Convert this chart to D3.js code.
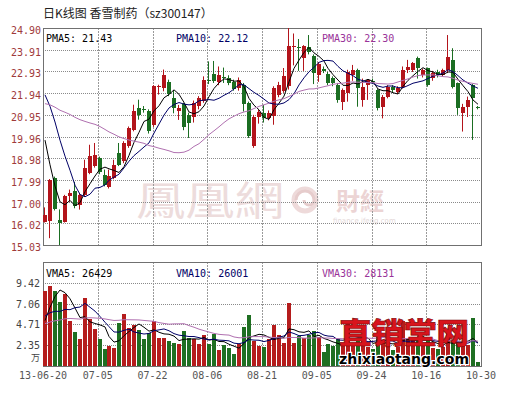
<!DOCTYPE html>
<html>
<head>
<meta charset="utf-8">
<script src="https://cdn.jsdelivr.net/npm/d3@7"></script>
<style>
body { margin: 0; background: #fff; }
svg { display: block; }
</style>
</head>
<body>
<script>
var WIDTH = 506, HEIGHT = 395;

// trading days 2013-06-20 .. 2013-10-30
var dates = ["06-20","06-21","06-24","06-25","06-26","06-27","06-28",
  "07-01","07-02","07-03","07-04","07-05","07-08","07-09","07-10","07-11","07-12",
  "07-15","07-16","07-17","07-18","07-19","07-22","07-23","07-24","07-25","07-26","07-29","07-30","07-31",
  "08-01","08-02","08-05","08-06","08-07","08-08","08-09","08-12","08-13","08-14","08-15","08-16",
  "08-19","08-20","08-21","08-22","08-23","08-26","08-27","08-28","08-29","08-30",
  "09-02","09-03","09-04","09-05","09-06","09-09","09-10","09-11","09-12","09-13",
  "09-16","09-17","09-18","09-23","09-24","09-25","09-26","09-27","09-30",
  "10-08","10-09","10-10","10-11","10-14","10-15","10-16","10-17","10-18",
  "10-21","10-22","10-23","10-24","10-25","10-28","10-29","10-30"];

var open = [16.09,16.12,18.09,16.15,16.09,17.28,17.50,16.87,17.32,18.31,
  18.61,18.99,18.23,17.65,18.08,19.22,18.84,19.52,20.28,21.26,
  21.22,21.11,20.50,22.20,22.17,22.45,21.70,21.12,21.45,20.95,
  20.85,21.35,21.60,22.55,22.80,22.45,22.65,22.62,22.45,22.15,
  22.30,21.48,19.55,20.84,21.05,20.82,20.88,21.87,22.02,22.25,
  24.02,24.05,23.55,24.05,23.62,22.75,23.02,22.80,22.62,22.31,
  21.55,21.93,22.76,22.99,21.63,22.31,22.48,22.08,21.32,21.78,
  22.23,22.00,22.23,22.99,22.99,23.52,22.76,23.07,22.61,22.91,
  22.76,22.99,23.45,22.38,21.02,21.32,22.31,21.30];
var high = [16.74,18.03,18.14,16.65,17.31,17.55,17.90,17.40,18.91,19.59,
  19.67,19.05,18.46,18.46,18.91,19.67,19.75,20.42,21.41,21.64,
  21.35,21.20,22.30,22.32,23.01,22.55,22.08,21.40,21.50,21.05,
  21.60,21.80,22.70,23.38,23.40,23.15,23.10,22.75,22.55,22.65,
  22.40,21.55,20.95,21.20,21.40,21.15,22.25,22.45,23.08,24.90,
  24.65,24.40,24.12,24.58,23.70,23.35,23.15,22.90,22.70,22.40,
  22.15,23.00,23.22,23.05,22.60,22.56,22.60,22.12,21.85,22.30,
  22.30,22.25,23.15,23.45,23.35,23.60,23.05,23.10,22.95,23.00,
  23.05,24.58,23.98,22.42,21.45,21.78,22.35,21.35];
var low = [16.05,15.34,16.60,15.03,16.05,17.00,16.70,16.64,17.25,18.25,
  18.55,18.25,17.70,17.60,18.02,18.62,18.75,19.45,20.20,20.73,
  21.05,20.10,20.40,21.87,22.02,21.80,21.02,20.72,20.25,19.90,
  20.60,21.20,21.50,22.35,22.40,22.30,22.40,22.30,22.05,22.05,
  21.10,19.90,19.45,20.55,20.60,20.70,20.50,21.75,21.95,22.10,
  23.20,22.95,22.95,23.70,22.35,22.45,22.85,22.30,22.25,21.50,
  21.17,21.55,22.50,21.32,21.32,21.63,22.35,21.15,20.79,21.70,
  21.95,21.90,22.15,22.85,22.90,22.60,22.65,22.23,22.50,22.65,
  22.70,22.85,22.15,20.95,20.19,20.85,19.81,21.20];
var close = [16.40,17.99,16.65,16.02,17.26,17.38,16.79,17.32,18.53,19.06,
  19.14,18.35,17.78,18.15,18.68,18.68,19.67,20.35,21.11,20.96,
  21.15,20.20,22.25,22.25,22.78,21.90,21.26,21.24,20.40,20.60,
  21.50,21.72,22.55,22.50,22.48,22.78,22.62,22.40,22.12,22.55,
  21.45,19.97,20.85,21.08,20.82,21.02,22.15,22.32,22.70,24.07,
  24.08,24.02,24.08,23.82,22.85,23.28,22.96,22.42,22.38,21.63,
  22.08,22.91,22.99,22.16,22.23,22.54,22.44,21.25,21.78,22.23,
  22.08,22.15,22.99,23.14,23.29,23.07,22.99,22.31,22.84,22.76,
  22.99,23.60,22.23,21.25,21.32,21.63,21.70,21.25];
// volume, in 万
var volume = [8.52,9.08,8.52,7.21,8.18,5.08,3.85,3.10,7.70,5.27,
  4.15,3.03,1.98,2.28,2.09,4.90,5.90,4.33,4.60,4.07,
  3.03,3.70,5.08,3.21,3.15,2.84,2.65,2.54,3.96,3.21,
  3.03,2.47,3.48,2.47,3.66,1.79,2.39,2.02,1.35,2.54,
  4.45,5.83,2.84,2.28,2.17,3.10,4.60,3.51,2.65,7.14,
  2.65,3.40,3.21,3.48,3.96,3.33,1.61,2.47,2.28,3.10,
  2.30,4.90,2.60,3.20,2.90,2.20,1.90,3.30,2.80,2.70,
  1.80,2.10,5.10,3.20,3.00,3.10,2.40,3.30,2.00,1.90,
  2.20,3.90,2.80,2.65,2.30,2.38,5.46,0.41];

// the 29 sessions before 06-20, only used by the moving averages
var priorClose = [19.6,19.9,20.2,20.0,20.4,20.7,20.5,20.9,21.2,21.0,
  21.4,21.7,21.5,21.9,22.2,22.0,22.4,22.6,22.3,22.8,
  23.2,23.8,24.3,24.5,23.8,23.6,21.5,19.6,17.9];
var priorVolume = [3.8,4.2,4.6,3.9,4.1,4.8,4.4,3.7,4.5,5.0,
  4.3,4.0,4.7,4.9,4.2,3.9,4.6,4.8,4.5,4.7,
  5.2,6.8,7.4,5.9,5.38,1.6,2.4,3.5,9.7];

var priceTicks = [15.03,16.02,17.00,17.99,18.98,19.96,20.95,21.94,22.93,23.91,24.90];
var volTicks = [2.35,4.71,7.06,9.42];
var tickDays = [0,11,22,33,44,55,66,77,88];
var tickLabels = ["13-06-20","07-05","07-22","08-06","08-21","09-05","09-24","10-16","10-30"];
var priceLegend = ["PMA5: 21.43","PMA10: 22.12","PMA30: 22.30"];
var volLegend = ["VMA5: 26429","VMA10: 26001","VMA30: 28131"];
var maDays = [5,10,30];
var maColors = ["#000000","#000066","#b070b0"];
var legendColors = ["#000000","#000066","#993399"];
var legendX = [46,176,322];

var UP = "#b3141b", DOWN = "#1b6e22";
var MONO = "'DejaVu Sans Mono', monospace";

var movingAvg = function(prior, values, n){
  var all = prior.concat(values);
  return values.map(function(d,i){
    var j = i + prior.length;
    return d3.mean(all.slice(j - n + 1, j + 1));
  });
};

var svg = d3.select("body").append("svg")
  .attr("width", WIDTH).attr("height", HEIGHT)
  .style("font-family", MONO);

var x = d3.scaleLinear().domain([0, dates.length]).range([43, 481]);
var yP = d3.scaleLinear().domain([15.03, 24.90]).range([245, 28]);
var yV = d3.scaleLinear().domain([0, 11.775]).range([366, 262]);
var cx = function(i){ return Math.round(x(i + 0.36)); };
var isUp = function(i){ return close[i] >= open[i]; };

// title
svg.append("text").attr("x", 43).attr("y", 17.5)
  .style("font-family", "'Noto Sans CJK SC', sans-serif").style("font-size", "12px")
  .attr("fill", "#222").text("日K线图 香雪制药（sz300147）");

// watermarks
var wm = svg.append("g");
wm.append("text").attr("x", 136).attr("y", 215)
  .attr("textLength", 148).attr("lengthAdjust", "spacingAndGlyphs")
  .style("font-family", "'Noto Sans CJK TC', sans-serif").style("font-size", "40px")
  .attr("fill", "#eddcdc").text("鳳凰網");
wm.append("circle").attr("cx", 305).attr("cy", 200).attr("r", 11)
  .attr("fill", "none").attr("stroke", "#eedada").attr("stroke-width", 5);
wm.append("path").attr("d", "M296,200 a9,9 0 0 1 18,0 a5,5 0 0 1 -10,0")
  .attr("fill", "none").attr("stroke", "#e6cccc").attr("stroke-width", 3);
wm.append("text").attr("x", 336).attr("y", 210)
  .style("font-family", "'Noto Sans CJK TC', sans-serif").style("font-size", "24px")
  .style("font-weight", "bold").attr("fill", "#ecd4d4").text("財經");
wm.append("text").attr("x", 333).attr("y", 223)
  .style("font-family", "'DejaVu Sans', sans-serif").style("font-size", "7px")
  .attr("fill", "#e4d8d8").text("finance.ifeng.com");

// grids and frames
var drawPanel = function(top, bottom, ticks, yScale){
  var g = svg.append("g");
  g.selectAll(".h").data(ticks).enter().append("line")
    .attr("x1", 43).attr("x2", 481)
    .attr("y1", function(d){ return Math.round(yScale(d)) + 0.5; })
    .attr("y2", function(d){ return Math.round(yScale(d)) + 0.5; })
    .attr("stroke", "#8a8a8a").attr("stroke-dasharray", "1,1");
  g.selectAll(".v").data(tickDays.slice(1, -1)).enter().append("line")
    .attr("x1", function(d){ return Math.round(x(d)) + 0.5; })
    .attr("x2", function(d){ return Math.round(x(d)) + 0.5; })
    .attr("y1", top).attr("y2", bottom)
    .attr("stroke", "#9a9a9a").attr("stroke-dasharray", "2,1");
  g.append("rect").attr("x", 43.5).attr("y", top + 0.5)
    .attr("width", 438).attr("height", bottom - top)
    .attr("fill", "none").attr("stroke", "#707070");
};
drawPanel(28, 245, priceTicks, yP);
drawPanel(262, 366, volTicks, yV);

// price axis labels
svg.append("g").selectAll("text").data(priceTicks).enter().append("text")
  .attr("x", 41).attr("y", function(d){ return Math.round(yP(d)) + 5.5; })
  .attr("text-anchor", "end").style("font-size", "10px").attr("fill", "#a03a3a")
  .text(function(d){ return d.toFixed(2); });

// volume axis labels
svg.append("g").selectAll("text").data(volTicks).enter().append("text")
  .attr("x", 40).attr("y", function(d){ return Math.round(yV(d)) + 3.5; })
  .attr("text-anchor", "end").style("font-size", "10px").attr("fill", "#444")
  .text(function(d){ return d.toFixed(2); });
svg.append("text").attr("x", 40).attr("y", 361).attr("text-anchor", "end")
  .style("font-family", "'Noto Sans CJK SC', sans-serif").style("font-size", "9px")
  .attr("fill", "#444").text("万");

// date labels
svg.append("g").selectAll("text").data(tickDays).enter().append("text")
  .attr("x", function(d){ return x(d); }).attr("y", 379)
  .attr("text-anchor", "middle").style("font-size", "10px").attr("fill", "#555")
  .text(function(d,i){ return tickLabels[i]; });

// candles
var candles = svg.append("g").selectAll("g").data(dates).enter().append("g");
candles.append("line")
  .attr("x1", function(d,i){ return cx(i) - 0.5; })
  .attr("x2", function(d,i){ return cx(i) - 0.5; })
  .attr("y1", function(d,i){ return yP(high[i]); })
  .attr("y2", function(d,i){ return yP(low[i]); })
  .attr("stroke", function(d,i){ return isUp(i) ? UP : DOWN; });
candles.append("rect")
  .attr("x", function(d,i){ return cx(i) - 2; })
  .attr("width", 4)
  .attr("y", function(d,i){ return Math.round(yP(Math.max(open[i], close[i]))); })
  .attr("height", function(d,i){
    return Math.max(1, Math.round(yP(Math.min(open[i], close[i]))) - Math.round(yP(Math.max(open[i], close[i]))));
  })
  .attr("fill", function(d,i){ return isUp(i) ? UP : DOWN; });

// volume bars
svg.append("g").selectAll("rect").data(volume).enter().append("rect")
  .attr("x", function(d,i){ return cx(i) - 2; })
  .attr("width", 4)
  .attr("y", function(d){ return Math.round(yV(d)); })
  .attr("height", function(d){ return 366 - Math.round(yV(d)); })
  .attr("fill", function(d,i){ return isUp(i) ? "#b51c1c" : "#1f6f22"; });

// moving averages
maDays.forEach(function(n, k){
  var pLine = d3.line().x(function(d,i){ return cx(i); }).y(function(d){ return yP(d); });
  svg.append("path").attr("d", pLine(movingAvg(priorClose, close, n)))
    .attr("fill", "none").attr("stroke", maColors[k]).attr("stroke-width", 1);
  var vLine = d3.line().x(function(d,i){ return cx(i); }).y(function(d){ return yV(d); });
  svg.append("path").attr("d", vLine(movingAvg(priorVolume, volume, n)))
    .attr("fill", "none").attr("stroke", maColors[k]).attr("stroke-width", 1);
});

// legends
svg.append("g").selectAll("text").data(priceLegend).enter().append("text")
  .attr("x", function(d,i){ return legendX[i]; }).attr("y", 41.5)
  .style("font-size", "10px").attr("fill", function(d,i){ return legendColors[i]; })
  .text(function(d){ return d; });
svg.append("g").selectAll("text").data(volLegend).enter().append("text")
  .attr("x", function(d,i){ return legendX[i]; }).attr("y", 276.5)
  .style("font-size", "10px").attr("fill", function(d,i){ return legendColors[i]; })
  .text(function(d){ return d; });

// site watermark, bottom right
svg.append("text").attr("x", 339).attr("y", 344)
  .attr("textLength", 130).attr("lengthAdjust", "spacingAndGlyphs")
  .style("font-family", "'Noto Sans CJK SC', sans-serif").style("font-size", "29px")
  .style("font-weight", "900").attr("fill", "#d8141c")
  .attr("stroke", "#7a0a0a").attr("stroke-width", 0.6)
  .text("直销堂网");
svg.append("text").attr("x", 339).attr("y", 364)
  .attr("textLength", 130).attr("lengthAdjust", "spacingAndGlyphs")
  .style("font-family", "'DejaVu Sans', sans-serif").style("font-size", "14px")
  .style("font-weight", "bold").attr("fill", "#000")
  .attr("stroke", "#fff").attr("stroke-width", 2.5).style("paint-order", "stroke")
  .text("zhixiaotang.com");
</script>
</body>
</html>
